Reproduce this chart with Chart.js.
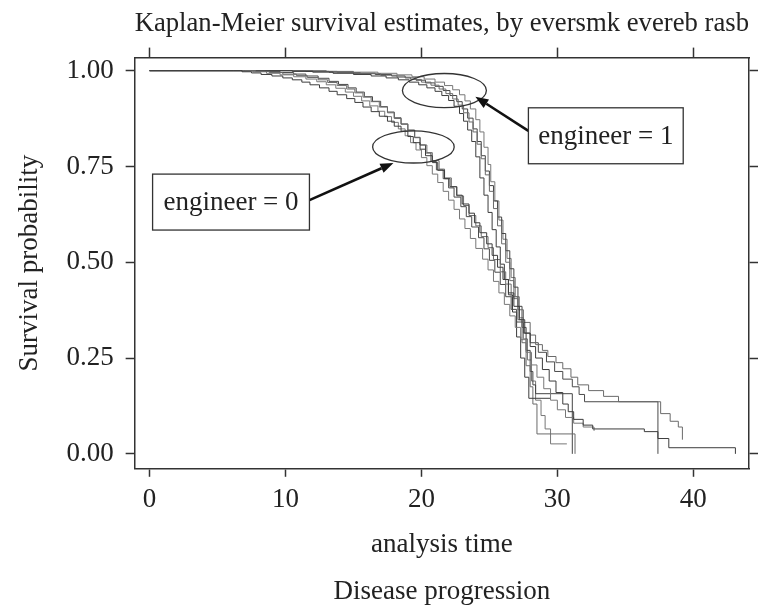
<!DOCTYPE html>
<html>
<head>
<meta charset="utf-8">
<script src="https://cdn.jsdelivr.net/npm/chart.js@4.4.0/dist/chart.umd.min.js"></script>
<style>
body { margin: 0; background: #fff; }
#wrap { width: 768px; height: 614px; }
</style>
</head>
<body>
<div id="wrap"><canvas id="kmChart"></canvas></div>
<script>
const xTicks = [0, 10, 20, 30, 40];
const yTicks = [0, 0.25, 0.5, 0.75, 1];

// engineer = 0 curves [time, survival]
const eng0a = [[0,1],[6.2,1],[6.8,.997],[7.5,.994],[8.2,.99],[9,.986],[9.8,.981],[10.5,.976],[11.2,.97],[11.8,.963],[12.5,.955],[13.2,.946],[13.8,.937],[14.5,.927],[15.1,.917],[15.7,.905],[16.3,.893],[16.9,.881],[17.5,.868],[18,.855],[18.5,.842],[19,.828],[19.4,.812],[19.9,.795],[20.3,.778],[20.8,.76],[21.2,.74],[21.7,.718],[22.1,.697],[22.6,.675],[23,.652],[23.5,.628],[23.9,.603],[24.3,.577],[24.8,.548],[25.2,.518],[25.6,.487],[26,.455],[26.4,.42],[26.8,.385],[27.2,.35],[27.6,.315],[28,.28],[28.4,.25],[28.9,.22],[29.4,.19],[29.9,.16],[30.4,.13],[30.8,.11],[31.2,.09],[31.9,.075],[32.6,.065],[36.4,.058],[37.4,.04],[38.2,.016],[43.1,0]];
const eng0b = [[0,1],[7,1],[7.8,.998],[8.8,.995],[9.8,.991],[10.8,.987],[11.6,.982],[12.4,.976],[13.1,.969],[13.8,.961],[14.5,.952],[15.1,.942],[15.7,.931],[16.3,.919],[16.9,.905],[17.5,.89],[18,.875],[18.5,.86],[19,.843],[19.5,.825],[19.9,.806],[20.4,.786],[20.8,.765],[21.3,.743],[21.7,.72],[22.2,.697],[22.6,.673],[23.1,.648],[23.5,.622],[24,.595],[24.4,.567],[24.9,.538],[25.3,.507],[25.8,.475],[26.2,.443],[26.6,.41],[27.1,.376],[27.5,.343],[28,.31],[28.4,.285],[28.9,.27],[29.3,.254],[29.9,.238],[30.4,.222],[31,.2],[31.5,.18],[32.3,.165],[33.4,.15],[34.5,.136],[37.6,.105],[38.3,.085],[38.9,.07],[39.2,.037]];
const eng0c = [[0,1],[7.5,1],[8.5,.998],[9.6,.995],[10.6,.991],[11.5,.986],[12.4,.98],[13.2,.972],[13.9,.964],[14.6,.955],[15.2,.944],[15.8,.932],[16.4,.92],[17,.906],[17.5,.892],[18,.877],[18.5,.861],[19,.845],[19.5,.826],[19.9,.806],[20.3,.785],[20.7,.763],[21.1,.741],[21.6,.718],[22,.694],[22.4,.67],[22.9,.645],[23.3,.619],[23.7,.592],[24.2,.564],[24.6,.535],[25,.505],[25.4,.474],[25.8,.442],[26.2,.41],[26.6,.377],[27,.344],[27.5,.315],[28,.29],[28.6,.265],[29.2,.24],[29.8,.215],[30.4,.195],[31.1,.175],[31.6,.155],[32,.136],[37.4,0]];
const eng0d = [[0,1],[6.8,1],[7.6,.997],[8.6,.993],[9.6,.989],[10.6,.984],[11.5,.978],[12.3,.971],[13,.963],[13.7,.954],[14.4,.944],[15,.933],[15.6,.921],[16.2,.908],[16.8,.894],[17.3,.88],[17.8,.865],[18.3,.848],[18.8,.83],[19.2,.812],[19.6,.793],[20,.773],[20.4,.752],[20.8,.73],[21.2,.708],[21.6,.685],[22,.662],[22.4,.638],[22.8,.613],[23.2,.588],[23.6,.562],[24,.536],[24.5,.508],[24.9,.48],[25.3,.45],[25.7,.42],[26.1,.39],[26.5,.36],[26.9,.33],[27.3,.298],[27.7,.265],[28.1,.232],[28.5,.2],[29,.17],[29.5,.14],[30,.115],[30.6,.095],[31.2,.08],[31.9,.07],[32.7,.06]];

// engineer = 1 curves
const eng1a = [[0,1],[9,1],[10.5,.998],[12,.996],[13.5,.993],[15,.99],[16.3,.986],[17.4,.981],[18.3,.976],[19.1,.97],[19.8,.963],[20.4,.955],[21,.946],[21.5,.935],[22,.922],[22.4,.907],[22.8,.888],[23.1,.868],[23.4,.845],[23.7,.815],[24,.775],[24.3,.72],[24.6,.675],[24.9,.63],[25.2,.585],[25.5,.54],[25.8,.495],[26.1,.455],[26.4,.415],[26.7,.37],[27,.305],[27.3,.25],[27.6,.2],[27.9,.145],[29.5,.145]];
const eng1b = [[0,1],[10.5,1],[12,.998],[13.8,.995],[15.5,.992],[17,.988],[18.2,.983],[19.2,.977],[20,.97],[20.7,.962],[21.3,.952],[21.8,.94],[22.3,.926],[22.7,.91],[23.1,.89],[23.5,.866],[23.8,.84],[24.1,.808],[24.4,.77],[24.7,.728],[25,.685],[25.3,.64],[25.6,.595],[25.9,.548],[26.2,.5],[26.5,.452],[26.8,.405],[27.1,.35],[27.4,.29],[27.7,.23],[28,.175],[28.2,.13],[28.5,.052],[31.3,0]];
const eng1c = [[0,1],[10,1],[11.5,.998],[13.2,.996],[15,.993],[16.6,.99],[17.8,.986],[18.8,.981],[19.6,.975],[20.3,.968],[21,.959],[21.6,.948],[22.1,.935],[22.6,.919],[23,.9],[23.4,.876],[23.8,.848],[24.1,.815],[24.4,.778],[24.7,.738],[25,.7],[25.3,.66],[25.6,.618],[25.9,.575],[26.2,.53],[26.5,.483],[26.8,.435],[27.1,.385],[27.4,.33],[27.7,.27],[28,.215],[28.2,.18],[28.4,.157],[31.1,0]];
const eng1d = [[0,1],[11.5,1],[13,.998],[15,.996],[16.8,.993],[18.2,.989],[19.3,.984],[20.2,.978],[21,.97],[21.7,.961],[22.3,.95],[22.8,.937],[23.2,.921],[23.6,.9],[24,.872],[24.3,.84],[24.6,.8],[24.9,.755],[25.1,.71],[25.4,.66],[25.7,.61],[26,.56],[26.3,.51],[26.6,.46],[26.9,.41],[27.2,.355],[27.5,.3],[27.8,.245],[28.1,.19],[28.4,.14],[28.8,.1],[29.1,.065],[29.5,.026],[30.7,.026]];

const curves = [eng0a, eng0b, eng0c, eng0d, eng1a, eng1b, eng1c, eng1d];
const lineColors = ['#3c3c3c', '#6a6a6a', '#4a4a4a', '#777777', '#3c3c3c', '#6a6a6a', '#444444', '#777777'];

const serif = 'Liberation Serif';
const ink = '#222';

// ellipses, arrows and labelled boxes, placed in data units
const annotations = {
    id: 'annotations',
    afterDatasetsDraw(chart) {
        const ctx = chart.ctx;
        const xs = chart.scales.x;
        const ys = chart.scales.y;
        const px = v => xs.getPixelForValue(v);
        const py = v => ys.getPixelForValue(v);

        function ellipse(cx, cy, rx, ry) {
            ctx.beginPath();
            ctx.ellipse(px(cx), py(cy), Math.abs(px(cx + rx) - px(cx)), Math.abs(py(cy + ry) - py(cy)), 0, 0, Math.PI * 2);
            ctx.lineWidth = 1.3;
            ctx.strokeStyle = '#333';
            ctx.stroke();
        }

        function arrow(x1, y1, x2, y2) {
            const ax = px(x1), ay = py(y1), bx = px(x2), by = py(y2);
            const ang = Math.atan2(by - ay, bx - ax);
            const head = 13;
            ctx.beginPath();
            ctx.moveTo(ax, ay);
            ctx.lineTo(bx - head * Math.cos(ang), by - head * Math.sin(ang));
            ctx.lineWidth = 2.6;
            ctx.strokeStyle = '#111';
            ctx.stroke();
            ctx.beginPath();
            ctx.moveTo(bx, by);
            ctx.lineTo(bx - head * Math.cos(ang) + 5 * Math.sin(ang), by - head * Math.sin(ang) - 5 * Math.cos(ang));
            ctx.lineTo(bx - head * Math.cos(ang) - 5 * Math.sin(ang), by - head * Math.sin(ang) + 5 * Math.cos(ang));
            ctx.closePath();
            ctx.fillStyle = '#111';
            ctx.fill();
        }

        function box(x1, x2, y1, y2, text) {
            const l = px(x1), r = px(x2), t = py(y1), b = py(y2);
            ctx.fillStyle = '#fff';
            ctx.fillRect(l, t, r - l, b - t);
            ctx.lineWidth = 1.3;
            ctx.strokeStyle = '#333';
            ctx.strokeRect(l, t, r - l, b - t);
            ctx.fillStyle = ink;
            ctx.font = '27px "' + serif + '"';
            ctx.textAlign = 'center';
            ctx.textBaseline = 'middle';
            ctx.fillText(text, (l + r) / 2, (t + b) / 2 + 1);
        }

        ctx.save();
        ellipse(19.41, 0.801, 3.0, 0.042);
        ellipse(21.69, 0.948, 3.09, 0.0445);
        arrow(11.76, 0.662, 17.94, 0.759);
        arrow(27.87, 0.843, 23.97, 0.932);
        box(0.22, 11.76, 0.730, 0.584, 'engineer = 0');
        box(27.87, 39.26, 0.903, 0.757, 'engineer = 1');
        ctx.restore();
    }
};

function frameAxis(extra) {
    return Object.assign({
        type: 'linear',
        grid: { drawOnChartArea: false, color: '#333', tickWidth: 1.5, tickLength: 9 },
        border: { display: true, color: '#333', width: 1.5 }
    }, extra);
}

const datasets = curves.map((c, i) => ({
    data: c.map(p => ({ x: p[0], y: p[1] })),
    stepped: true,
    borderColor: lineColors[i],
    borderWidth: 1,
    pointRadius: 0,
    fill: false,
    xAxisID: 'x',
    yAxisID: 'y'
}));

const config = {
    type: 'line',
    data: { datasets: datasets },
    options: {
        responsive: true,
        maintainAspectRatio: false,
        animation: false,
        layout: { padding: { left: 10, right: 10, top: 0, bottom: 0 } },
        scales: {
            x: frameAxis({
                axis: 'x', position: 'bottom', min: -1.1, max: 44.1,
                afterBuildTicks: s => { s.ticks = xTicks.map(v => ({ value: v })); },
                grid: { drawOnChartArea: false, color: '#333', tickWidth: 1.5, tickLength: 8 },
                ticks: { color: ink, font: { family: serif, size: 27 }, padding: 7, maxRotation: 0 },
                title: { display: true, text: 'analysis time', color: ink, font: { family: serif, size: 27 }, padding: { top: 6, bottom: 0 } }
            }),
            x2: frameAxis({
                axis: 'x', position: 'top', min: -1.1, max: 44.1,
                afterBuildTicks: s => { s.ticks = xTicks.map(v => ({ value: v })); },
                grid: { drawOnChartArea: false, color: '#333', tickWidth: 1.5, tickLength: 10 },
                ticks: { display: false }
            }),
            y: frameAxis({
                axis: 'y', position: 'left', min: -0.039, max: 1.034,
                afterBuildTicks: s => { s.ticks = yTicks.map(v => ({ value: v })); },
                ticks: { color: ink, font: { family: serif, size: 27 }, padding: 12, callback: v => v.toFixed(2) },
                title: { display: true, text: 'Survival probability', color: ink, font: { family: serif, size: 27 }, padding: { top: 4, bottom: 8 } }
            }),
            y2: frameAxis({
                axis: 'y', position: 'right', min: -0.039, max: 1.034,
                afterBuildTicks: s => { s.ticks = yTicks.map(v => ({ value: v })); },
                ticks: { display: false }
            })
        },
        plugins: {
            legend: { display: false },
            tooltip: { enabled: false },
            title: {
                display: true, fullSize: false,
                text: 'Kaplan-Meier survival estimates, by eversmk evereb rasb',
                color: ink, font: { family: serif, size: 28, weight: 'normal' },
                padding: { top: 7, bottom: 7 }
            },
            subtitle: {
                display: true, fullSize: false, position: 'bottom',
                text: 'Disease progression',
                color: ink, font: { family: serif, size: 27, weight: 'normal' },
                padding: { top: 14, bottom: 6 }
            }
        }
    },
    plugins: [annotations]
};

const ctx = document.getElementById('kmChart');
const kmChart = new Chart(ctx, config);
</script>
</body>
</html>
